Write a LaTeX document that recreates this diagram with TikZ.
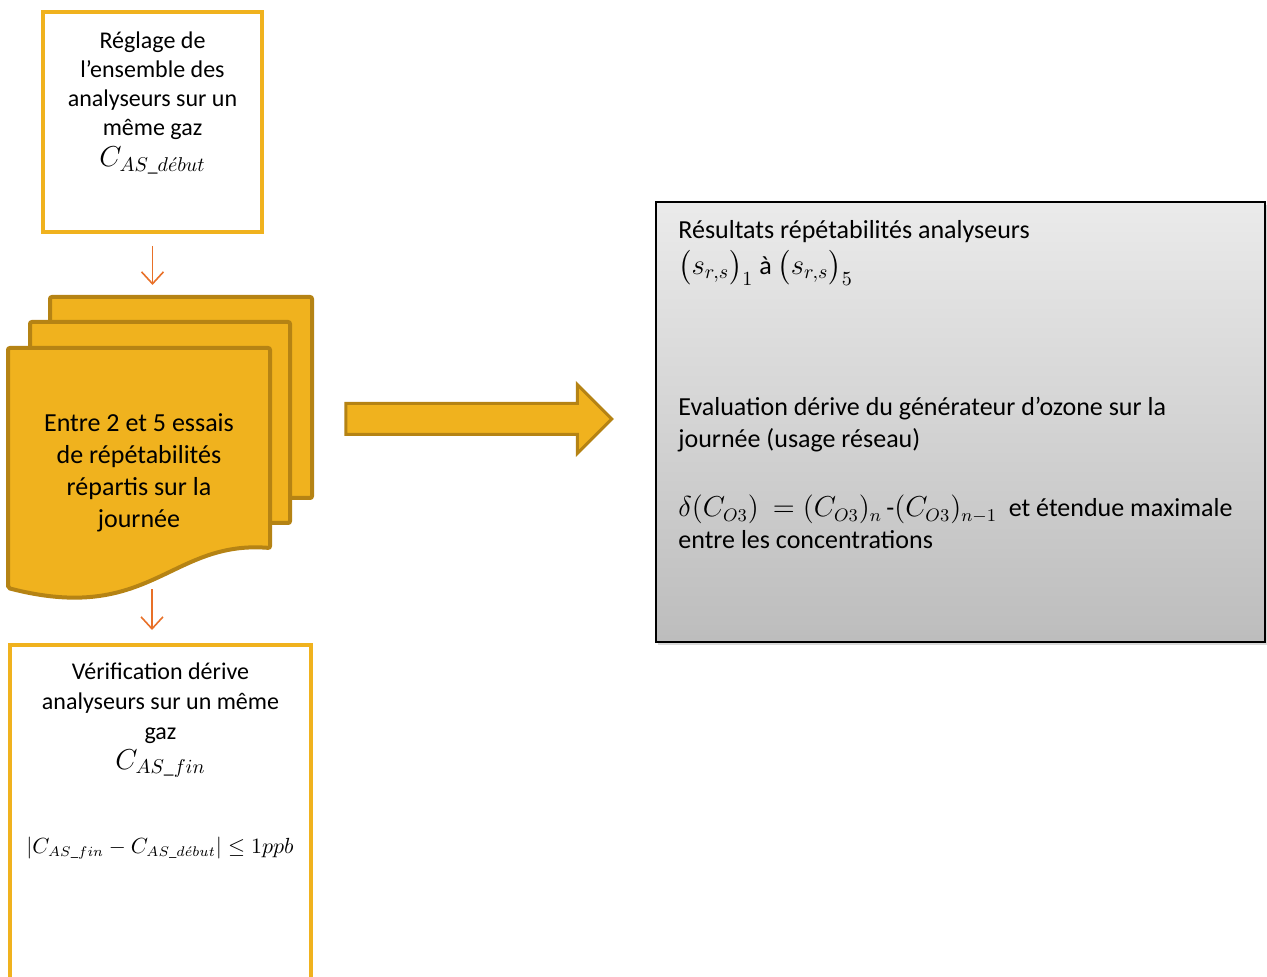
\documentclass[tikz,border=0pt]{standalone}
\usepackage{amsmath}
\usepackage{fontspec}
\setmainfont{Carlito}
\usepackage{tikz}
\usetikzlibrary{arrows.meta,shapes.arrows,shadows}
\definecolor{ambre}{RGB}{240,178,30}
\definecolor{bronze}{RGB}{181,131,20}
\definecolor{rouille}{RGB}{232,112,40}
\tikzset{
    cadre/.style={draw=ambre, line width=2pt, fill=white},
    feuille/.style={draw=bronze, fill=ambre, line width=2pt, rounded corners=1pt},
    petitefleche/.style={draw=rouille, line width=0.8pt, -{Straight Barb[length=6pt,width=11pt]}},
    texte/.style={font=\fontsize{12}{14.6}\selectfont, align=center, inner sep=0pt},
    grand/.style={font=\fontsize{13}{16}\selectfont, inner sep=0pt}
}
\newcommand{\grosmath}[1]{{\fontsize{14}{16}\selectfont$#1$}}
\newcommand{\moyenmath}[1]{{\fontsize{13.4}{16}\selectfont$#1$}}

\begin{document}
\begin{tikzpicture}[x=0.5pt,y=-0.5pt]
    \useasboundingbox (0,0) rectangle (1267,977);
    % premier cadre
    \node[cadre, minimum width=109.5pt, minimum height=110pt] (reglage) at (152.5,122) {};
    \node[texte, anchor=north] (reglage-txt) at (152.5,31)
        {Réglage de\\l’ensemble des\\analyseurs sur un\\même gaz\\[1pt]\grosmath{C_{AS\_d\acute{e}but}}};
    % pile des essais
    \node[feuille, minimum width=131pt, minimum height=100.5pt] (feuille3) at (181,397.5) {};
    \node[feuille, minimum width=130pt, minimum height=100.5pt] (feuille2) at (160,422.5) {};
    \draw[feuille] (8,348) -- (270,348) -- (270,548)
        .. controls (170,540) and (150,625) .. (8,588) -- cycle;
    \coordinate (doc-bas) at (152,589);
    \node[grand, align=center] (essais) at (139,472.5)
        {Entre 2 et 5 essais\\de répétabilités\\répartis sur la\\journée};
    % dernier cadre
    \node[cadre, minimum width=150.5pt, minimum height=175pt, anchor=north] (verif) at (160.5,643) {};
    \node[texte, font=\fontsize{12}{15}\selectfont, anchor=north] (verif-txt) at (160.5,662)
        {Vérification dérive\\analyseurs sur un même\\gaz\\\grosmath{C_{AS\_fin}}};
    \node[texte, font=\fontsize{10.6}{13}\selectfont] (ecart) at (160,848)
        {$\left|C_{AS\_fin}-C_{AS\_d\acute{e}but}\right|\leq 1ppb$};
    \draw[petitefleche] ([yshift=-6pt]reglage.south) -- ([yshift=5pt]reglage.south |- feuille3.north);
    \draw[petitefleche, shorten >=6.5pt] (doc-bas) -- (doc-bas |- verif.north);
    % grosse fleche
    \node[single arrow, draw=bronze, fill=ambre, line width=1.5pt, inner xsep=0pt, inner ysep=7pt,
        minimum height=133pt, minimum width=33pt, single arrow head extend=9.5pt] (fleche) at (471,419) {};
    % resultats
    \node[draw=black, line width=1pt, top color=black!8, bottom color=black!26,
        drop shadow={shadow xshift=1pt, shadow yshift=-1.5pt, opacity=0.3},
        minimum width=304.5pt, minimum height=220pt] (resultats) at (960.5,422) {};
    \node[grand, align=left, anchor=west] (res-a) at (678,253)
        {Résultats répétabilités analyseurs\\[2pt] \grosmath{\bigl(s_{r,s}\bigr)_1} à \grosmath{\bigl(s_{r,s}\bigr)_5}};
    \node[grand, align=left, anchor=west] (res-b) at (678,424.5)
        {Evaluation dérive du générateur d’ozone sur la\\journée (usage réseau)};
    \node[grand, align=left, anchor=west] (res-c) at (678,522)
        {\moyenmath{\delta(C_{O3})\ = (C_{O3})_n}\,-\moyenmath{(C_{O3})_{n-1}} \ et étendue maximale\\entre les concentrations};
\end{tikzpicture}
\end{document}
